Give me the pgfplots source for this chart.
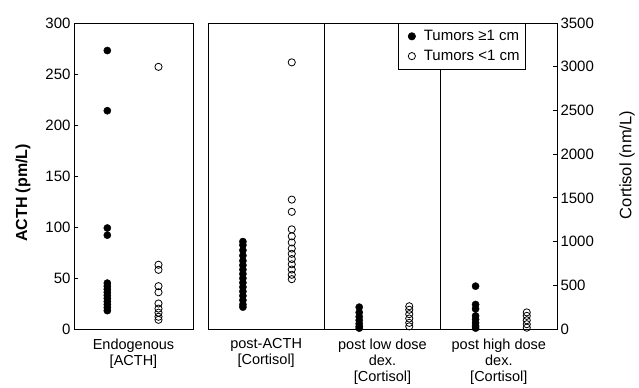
\documentclass[border=0pt]{standalone}
\usepackage{pgfplots}
\pgfplotsset{compat=1.18}
\usepackage{fontspec}
\setmainfont{Liberation Sans}
\begin{document}
\begin{tikzpicture}[x=1pt,y=1pt]
\path (0,0) rectangle (639,386);
\pgfplotsset{
  panel/.style={
    scale only axis, anchor=south west,
    height=306pt,
    tick align=inside,
    major tick length=4pt,
    axis line style={line width=0.8pt},
    every tick/.style={line width=0.8pt, black},
    /pgf/number format/assume math mode=true,
    /pgf/number format/1000 sep={},
    yticklabel style={font=\fontsize{15}{17}\selectfont},
    xticklabel style={font=\fontsize{14.5}{16}\selectfont, align=center, yshift=-6pt},
    x tick style={draw=none},
    clip=false,
  },
  filled/.style={only marks, mark=*, mark size=3.6pt, mark options={fill=black, draw=black}},
  open/.style={only marks, mark=o, mark size=3.6pt, mark options={draw=black, line width=0.8pt}},
}
% Panel 1: ACTH
\begin{axis}[panel, at={(74pt,57pt)}, width=119pt,
  xmin=0, xmax=1, ymin=0, ymax=300,
  ytick={0,50,...,300}, ytick pos=left,
  xtick={0.5}, xticklabels={Endogenous\\{}[ACTH]},
]
\addplot[filled] coordinates {
(0.28,273) (0.28,214) (0.28,99) (0.28,92) (0.28,45) (0.28,42) (0.28,39) (0.28,36)
(0.28,33) (0.28,30) (0.28,27) (0.28,24) (0.28,21) (0.28,18)};
\addplot[open] coordinates {
(0.71,257) (0.71,63) (0.71,58) (0.71,42) (0.71,36) (0.71,25) (0.71,20) (0.71,16)
(0.71,12) (0.71,9)};
\end{axis}
% Panels 2-4: Cortisol
\begin{axis}[panel, at={(208pt,57pt)}, width=349pt,
  xmin=0.5, xmax=3.5, ymin=0, ymax=3500,
  ytick={0,500,...,3500}, ytick pos=right, yticklabel pos=right,
  xtick={1,2,3},
  xticklabels={post-ACTH\\{}[Cortisol], post low dose\\dex.\\{}[Cortisol], post high dose\\dex.\\{}[Cortisol]},
  extra x ticks={1.5,2.5}, extra x tick labels={},
  extra x tick style={grid=major, major grid style={black, line width=0.8pt}},
  legend style={at={(0.911,1)}, anchor=north east, draw=black, line width=0.8pt,
    font=\fontsize{15}{17}\selectfont, inner xsep=4pt, inner ysep=5pt, row sep=4pt},
  legend cell align=left,
  legend image code/.code={\path[draw=none,fill=none] (0,0) -- (0.7cm,0); \draw[#1] plot coordinates {(0.35cm,0cm)};},
]
\addplot[filled] coordinates {
(0.80,1000) (0.80,960) (0.80,900) (0.80,840) (0.80,780) (0.80,730) (0.80,680) (0.80,630)
(0.80,580) (0.80,530) (0.80,480) (0.80,430) (0.80,380) (0.80,330) (0.80,280) (0.80,250)
(1.80,250) (1.80,190) (1.80,140) (1.80,100) (1.80,60) (1.80,30) (1.80,10)
(2.80,490) (2.80,280) (2.80,230) (2.80,150) (2.80,110) (2.80,70) (2.80,35) (2.80,10)};
\addlegendentry{Tumors ≥1 cm}
\addplot[open] coordinates {
(1.22,3050) (1.22,1480) (1.22,1340) (1.22,1140) (1.22,1060) (1.22,990) (1.22,920)
(1.22,860) (1.22,800) (1.22,740) (1.22,680) (1.22,620) (1.22,570)
(2.23,260) (2.23,220) (2.23,170) (2.23,120) (2.23,70) (2.23,30)
(3.24,190) (3.24,150) (3.24,100) (3.24,55) (3.24,15)};
\addlegendentry{Tumors <1 cm}
\end{axis}
\node[rotate=90, font=\bfseries\fontsize{16}{18}\selectfont] at (23,193) {ACTH (pm/L)};
\node[rotate=90, font=\fontsize{16.5}{18}\selectfont] at (627,221) {Cortisol (nm/L)};
\end{tikzpicture}
\end{document}
